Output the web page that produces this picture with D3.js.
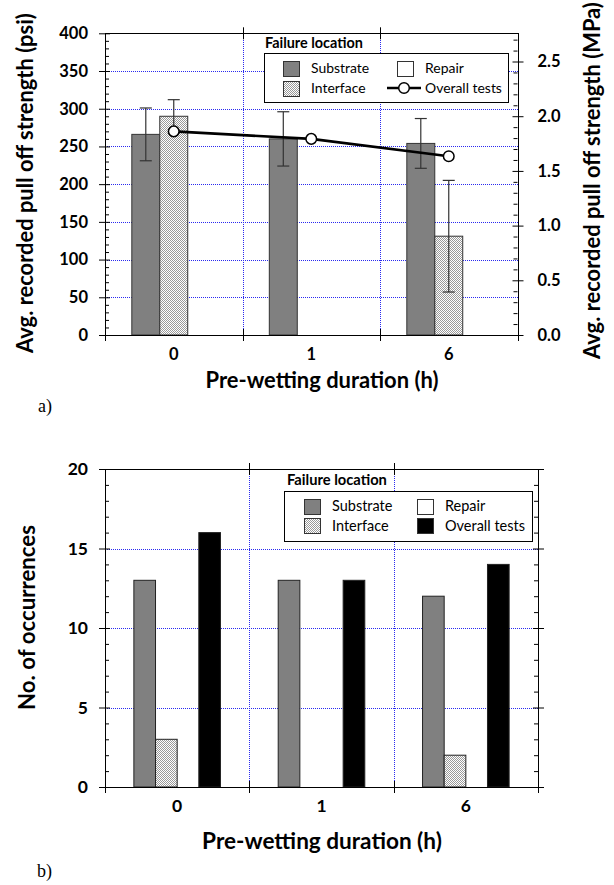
<!DOCTYPE html>
<html><head><meta charset="utf-8">
<script src="https://cdn.jsdelivr.net/npm/d3@7"></script>
<style>body{margin:0;background:#fff} svg{display:block}</style>
</head><body>
<svg id="c" width="614" height="885"></svg>
<script>
// ---------- data ----------
const categories = ["0", "1", "6"];
const seriesA = ["Substrate", "Interface", "Repair"];
const substratePsi = [266, 260, 254];
const substrateErr = [35, 36, 33];
const interfacePsi = [290, null, 131];
const interfaceErr = [22, null, 74];
const repairPsi = [null, null, null];
const overallPsi = [270, 260, 237];
const psiTicks = [0, 50, 100, 150, 200, 250, 300, 350, 400];
const mpaTicks = [0.0, 0.5, 1.0, 1.5, 2.0, 2.5];

const seriesB = ["Substrate", "Interface", "Repair", "Overall tests"];
const substrateN = [13, 13, 12];
const interfaceN = [3, 0, 2];
const repairN = [0, 0, 0];
const overallN = [16, 13, 14];
const countTicks = [0, 5, 10, 15, 20];

const PSI_TO_MPA = 0.00689476;

// ---------- setup ----------
const svg = d3.select("#c");
const FONT = "Lato, 'Open Sans', sans-serif";
const defs = svg.append("defs");
const pat = defs.append("pattern").attr("id", "hatch").attr("patternUnits", "userSpaceOnUse")
  .attr("width", 2).attr("height", 2);
pat.append("rect").attr("width", 2).attr("height", 2).attr("fill", "#fff");
pat.append("rect").attr("width", 1).attr("height", 1).attr("fill", "#999");
pat.append("rect").attr("x", 1).attr("y", 1).attr("width", 1).attr("height", 1).attr("fill", "#999");

const fills = {
  "Substrate": "#808080",
  "Interface": "url(#hatch)",
  "Repair": "#ffffff",
  "Overall tests": "#000000"
};
const px = v => Math.round(v) + 0.5;

function fit(sel, target) {
  const w = sel.node().getComputedTextLength();
  const fs = parseFloat(sel.attr("font-size"));
  sel.attr("font-size", fs * target / w);
  return sel;
}

function drawFrame(g, x0, y, ticks) {
  const [xl, xr] = x0.range();
  const [yb, yt] = y.range();
  const bounds = d3.range(categories.length + 1).map(i => xl + i * x0.step());
  g.append("g").selectAll("line").data(ticks.slice(1, -1)).join("line")
    .attr("x1", xl).attr("x2", xr).attr("y1", d => px(y(d))).attr("y2", d => px(y(d)))
    .attr("stroke", "#2a2af0").attr("stroke-dasharray", "1,1").attr("stroke-width", 1)
    .attr("shape-rendering", "crispEdges");
  g.append("g").selectAll("line").data(bounds.slice(1, -1)).join("line")
    .attr("x1", d => px(d)).attr("x2", d => px(d)).attr("y1", yb).attr("y2", yt)
    .attr("stroke", "#2a2af0").attr("stroke-dasharray", "1,1").attr("stroke-width", 1)
    .attr("shape-rendering", "crispEdges");
  return bounds;
}

function drawAxes(g, x0, y, ticks, minor, tickFont, bounds, right) {
  const [xl, xr] = x0.range();
  const [yb, yt] = y.range();
  const al = g.append("g").attr("transform", `translate(${xl},0)`)
    .call(d3.axisLeft(y).tickValues(ticks).tickSize(6).tickPadding(11));
  al.select(".domain").remove();
  al.selectAll(".tick line").attr("x1", 5).attr("stroke", "#000");
  al.selectAll("text").attr("font-family", FONT).attr("font-weight", "bold")
    .attr("font-size", tickFont).attr("fill", "#000");
  const am = g.append("g").attr("transform", `translate(${xl},0)`)
    .call(d3.axisLeft(y).tickValues(minor).tickSize(-4).tickFormat(""));
  am.select(".domain").remove();
  am.selectAll(".tick line").attr("stroke", "#000");
  if (right) {
    const ar = g.append("g").attr("transform", `translate(${xr},0)`)
      .call(d3.axisRight(right.scale).tickValues(right.ticks).tickSize(6).tickPadding(14)
        .tickFormat(right.fmt || (() => "")));
    ar.select(".domain").remove();
    ar.selectAll(".tick line").attr("x1", -5).attr("stroke", "#000");
    ar.selectAll("text").attr("font-family", FONT).attr("font-weight", "bold")
      .attr("font-size", tickFont).attr("fill", "#000");
    const arm = g.append("g").attr("transform", `translate(${xr},0)`)
      .call(d3.axisRight(right.scale).tickValues(right.minor).tickSize(-4).tickFormat(""));
    arm.select(".domain").remove();
    arm.selectAll(".tick line").attr("stroke", "#000");
  }
  g.append("g").selectAll("line").data(bounds).join("line")
    .attr("x1", d => px(d)).attr("x2", d => px(d)).attr("y1", yb - 6).attr("y2", yb + 6).attr("stroke", "#000");
  g.append("g").selectAll("line").data(bounds.slice(1, -1)).join("line")
    .attr("x1", d => px(d)).attr("x2", d => px(d)).attr("y1", yt - 6).attr("y2", yt + 6).attr("stroke", "#000");
  g.append("rect").attr("x", px(xl)).attr("y", px(yt)).attr("width", Math.round(xr - xl)).attr("height", Math.round(yb - yt))
    .attr("fill", "none").attr("stroke", "#000").attr("stroke-width", 1);
  const ab = g.append("g").attr("transform", `translate(0,${yb})`)
    .call(d3.axisBottom(x0).tickSize(0).tickPadding(0));
  ab.select(".domain").remove();
  ab.selectAll("text").attr("font-family", FONT).attr("font-weight", "bold")
    .attr("font-size", tickFont).attr("fill", "#000").attr("y", 25).attr("dy", 0);
}

function legend(g, x, y, w, h, titleX, titleY, titleLen, textLen, rowY, col1, col2, lastIsLine) {
  g.append("text").attr("x", titleX).attr("y", titleY).text("Failure location")
    .attr("font-family", FONT).attr("font-weight", "bold").attr("font-size", 13).attr("fill", "#000")
    .call(s => fit(s, titleLen));
  g.append("rect").attr("x", x).attr("y", y).attr("width", w).attr("height", h)
    .attr("fill", "#fff").attr("stroke", "#000").attr("stroke-width", 1);
  const items = [
    { s: "Substrate", col: 0, row: 0 }, { s: "Interface", col: 0, row: 1 },
    { s: "Repair", col: 1, row: 0 }, { s: "Overall tests", col: 1, row: 1 }
  ];
  const texts = [];
  items.forEach(it => {
    const sx = it.col === 0 ? col1 : col2;
    const ry = rowY[it.row];
    if (it.s === "Overall tests" && lastIsLine) {
      g.append("line").attr("x1", sx - 10).attr("x2", sx + 24).attr("y1", ry).attr("y2", ry)
        .attr("stroke", "#000").attr("stroke-width", 2.6);
      g.append("circle").attr("cx", sx + 7).attr("cy", ry).attr("r", 5.3)
        .attr("fill", "#fff").attr("stroke", "#000").attr("stroke-width", 1.5);
    } else {
      g.append("rect").attr("x", sx + 0.5).attr("y", Math.round(ry - 7.5) + 0.5).attr("width", 16).attr("height", 15)
        .attr("fill", fills[it.s]).attr("stroke", "#333").attr("stroke-width", 1);
    }
    texts.push(g.append("text").attr("x", sx + 28).attr("y", ry + 5).text(it.s)
      .attr("font-family", FONT).attr("font-size", 14).attr("fill", "#000"));
  });
  fit(texts[3], textLen);
  const fsz = texts[3].attr("font-size");
  texts.forEach(t => t.attr("font-size", fsz));
}

// =============== Panel a ===============
const gA = svg.append("g");
const xA = d3.scaleBand().domain(categories).range([105, 517.5]).paddingInner(0).paddingOuter(0);
const yA = d3.scaleLinear().domain([0, 400]).range([335, 33.3]);
const yAmpa = d3.scaleLinear().domain([0, 400 * PSI_TO_MPA]).range([335, 33.3]);
const groupA = xA.bandwidth() * 0.61;
const x1A = d3.scaleBand().domain(seriesA).range([-groupA / 2, groupA / 2]);
const cx = (xs, c) => xs(c) + xs.bandwidth() / 2;

const boundsA = drawFrame(gA, xA, yA, psiTicks);

const barDataA = [];
categories.forEach((c, i) => {
  [[substratePsi, substrateErr, "Substrate"], [interfacePsi, interfaceErr, "Interface"], [repairPsi, null, "Repair"]]
    .forEach(([vals, errs, s]) => {
      if (vals[i] != null && vals[i] > 0) barDataA.push({ c, s, v: vals[i], e: errs ? errs[i] : null });
    });
});
gA.append("g").selectAll("rect").data(barDataA).join("rect")
  .attr("x", d => cx(xA, d.c) + x1A(d.s)).attr("width", x1A.bandwidth())
  .attr("y", d => yA(d.v)).attr("height", d => yA(0) - yA(d.v))
  .attr("fill", d => fills[d.s]).attr("stroke", "#333").attr("stroke-width", 1);
const eb = gA.append("g").attr("stroke", "#333").attr("stroke-width", 1.2);
barDataA.filter(d => d.e != null).forEach(d => {
  const x = cx(xA, d.c) + x1A(d.s) + x1A.bandwidth() / 2;
  eb.append("line").attr("x1", x).attr("x2", x).attr("y1", yA(d.v + d.e)).attr("y2", yA(d.v - d.e));
  eb.append("line").attr("x1", x - 6).attr("x2", x + 6).attr("y1", yA(d.v + d.e)).attr("y2", yA(d.v + d.e));
  eb.append("line").attr("x1", x - 6).attr("x2", x + 6).attr("y1", yA(d.v - d.e)).attr("y2", yA(d.v - d.e));
});
const lineData = categories.map((c, i) => ({ c, v: overallPsi[i] }));
gA.append("path").datum(lineData)
  .attr("d", d3.line().x(d => cx(xA, d.c)).y(d => yA(d.v)))
  .attr("fill", "none").attr("stroke", "#000").attr("stroke-width", 2.6);
gA.append("g").selectAll("circle").data(lineData).join("circle")
  .attr("cx", d => cx(xA, d.c)).attr("cy", d => yA(d.v)).attr("r", 5.3)
  .attr("fill", "#fff").attr("stroke", "#000").attr("stroke-width", 1.5);

drawAxes(gA, xA, yA, psiTicks, d3.range(0, 401, 10).filter(v => v % 50 !== 0), 16.5, boundsA,
  { scale: yAmpa, ticks: mpaTicks, minor: d3.range(0, 2.75, 0.1).filter((v, i) => i % 5 !== 0), fmt: d3.format(".1f") });

legend(gA.append("g"), 264.5, 53.5, 244, 49, 265, 47.5, 98, 77, [68, 88], 283, 397, true);

const tA1 = gA.append("text").attr("transform", "translate(33,353) rotate(-90)")
  .attr("text-anchor", "start").text("Avg. recorded pull off strength (psi)")
  .attr("font-family", FONT).attr("font-weight", "bold").attr("font-size", 17).attr("fill", "#000");
fit(tA1, 340);
gA.append("text").attr("transform", "translate(600,359) rotate(-90)")
  .attr("text-anchor", "start").text("Avg. recorded pull off strength (MPa)")
  .attr("font-family", FONT).attr("font-weight", "bold").attr("font-size", tA1.attr("font-size")).attr("fill", "#000");
const xtA = gA.append("text").attr("x", 322).attr("y", 388).attr("text-anchor", "middle")
  .text("Pre-wetting duration (h)")
  .attr("font-family", FONT).attr("font-weight", "bold").attr("font-size", 17).attr("fill", "#000");
fit(xtA, 233);
gA.append("text").attr("x", 38).attr("y", 412).text("a)")
  .attr("font-family", "'Liberation Serif', 'DejaVu Serif', serif").attr("font-size", 18).attr("fill", "#000");

// =============== Panel b ===============
const gB = svg.append("g");
const xB = d3.scaleBand().domain(categories).range([105, 538]).paddingInner(0).paddingOuter(0);
const yB = d3.scaleLinear().domain([0, 20]).range([787, 469]);
const groupB = xB.bandwidth() * 0.6;
const x1B = d3.scaleBand().domain(seriesB).range([-groupB / 2, groupB / 2]);
const boundsB = drawFrame(gB, xB, yB, countTicks);

const barDataB = [];
categories.forEach((c, i) => {
  [[substrateN, "Substrate"], [interfaceN, "Interface"], [repairN, "Repair"], [overallN, "Overall tests"]]
    .forEach(([vals, s]) => { if (vals[i] > 0) barDataB.push({ c, s, v: vals[i] }); });
});
gB.append("g").selectAll("rect").data(barDataB).join("rect")
  .attr("x", d => cx(xB, d.c) + x1B(d.s)).attr("width", x1B.bandwidth())
  .attr("y", d => yB(d.v)).attr("height", d => yB(0) - yB(d.v))
  .attr("fill", d => fills[d.s]).attr("stroke", "#222").attr("stroke-width", 1);

drawAxes(gB, xB, yB, countTicks, d3.range(0, 21, 1).filter(v => v % 5 !== 0), 17.5, boundsB,
  { scale: yB, ticks: countTicks, minor: d3.range(0, 21, 1).filter(v => v % 5 !== 0), fmt: () => "" });

legend(gB.append("g"), 284.5, 491.5, 248, 50, 287, 485, 100, 80, [506, 525.5], 304, 417, false);

const tB1 = gB.append("text").attr("transform", "translate(35,710) rotate(-90)")
  .attr("text-anchor", "start").text("No. of occurrences")
  .attr("font-family", FONT).attr("font-weight", "bold").attr("font-size", 17).attr("fill", "#000");
fit(tB1, 185);
const xtB = gB.append("text").attr("x", 322).attr("y", 849).attr("text-anchor", "middle")
  .text("Pre-wetting duration (h)")
  .attr("font-family", FONT).attr("font-weight", "bold").attr("font-size", 17).attr("fill", "#000");
fit(xtB, 240);
gB.append("text").attr("x", 37).attr("y", 877).text("b)")
  .attr("font-family", "'Liberation Serif', 'DejaVu Serif', serif").attr("font-size", 18).attr("fill", "#000");
</script>
</body></html>
